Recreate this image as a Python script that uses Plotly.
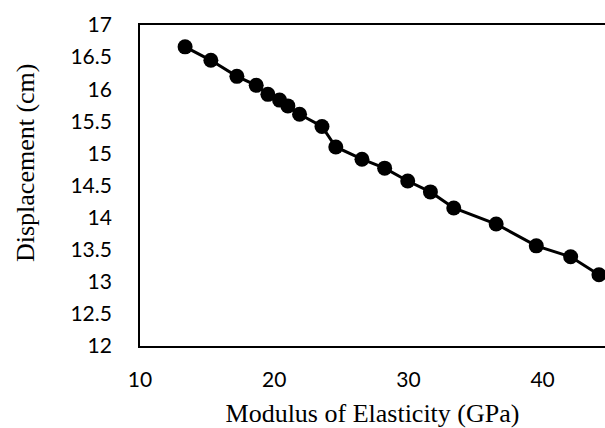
import plotly.graph_objects as go

# Modulus of elasticity (GPa) and the resulting displacement (cm)
modulus_gpa = [13.36, 15.28, 17.22, 18.66, 19.53, 20.40, 21.02, 21.89, 23.56, 24.59,
               26.54, 28.23, 29.95, 31.64, 33.38, 36.54, 39.53, 42.09, 44.20]
displacement_cm = [16.66, 16.45, 16.20, 16.06, 15.92, 15.83, 15.74, 15.61, 15.42, 15.10,
                   14.91, 14.77, 14.57, 14.40, 14.15, 13.90, 13.56, 13.39, 13.11]

x_ticks = [10, 20, 30, 40]
y_ticks = [12, 12.5, 13, 13.5, 14, 14.5, 15, 15.5, 16, 16.5, 17]
y_tick_text = ["12", "12.5", "13", "13.5", "14", "14.5", "15", "15.5", "16", "16.5", "17"]

x_title = "Modulus of Elasticity (GPa)"
y_title = "Displacement (cm)"

tick_font = dict(family="Lato, Open Sans, sans-serif", size=21, color="#000000")
title_font = dict(family="Liberation Serif, Times New Roman, serif", size=26, color="#000000")

fig = go.Figure(
    go.Scatter(
        x=modulus_gpa,
        y=displacement_cm,
        mode="lines+markers",
        line=dict(color="#000000", width=3),
        marker=dict(color="#000000", size=15),
        showlegend=False,
    )
)

fig.update_layout(
    width=605,
    height=428,
    margin=dict(l=140, r=0, t=25, b=82),
    paper_bgcolor="#ffffff",
    plot_bgcolor="#ffffff",
    xaxis=dict(
        range=[10, 44.65],
        tickvals=x_ticks,
        ticks="",
        showgrid=False,
        zeroline=False,
        showline=True,
        mirror=True,
        linecolor="#000000",
        linewidth=1.8,
        tickfont=tick_font,
        ticklabelstandoff=14,
        title=dict(text=x_title, font=title_font, standoff=18),
    ),
    yaxis=dict(
        range=[12, 17],
        tickvals=y_ticks,
        ticktext=y_tick_text,
        ticks="",
        showgrid=False,
        zeroline=False,
        showline=True,
        mirror=False,
        linecolor="#000000",
        linewidth=1.8,
        tickfont=tick_font,
        ticklabelstandoff=22,
    ),
    annotations=[
        dict(
            text=y_title,
            textangle=-90,
            xref="paper",
            yref="paper",
            x=-0.2473,
            y=0.57,
            xanchor="center",
            yanchor="middle",
            showarrow=False,
            font=title_font,
        )
    ],
)

fig.write_html("out.html")
